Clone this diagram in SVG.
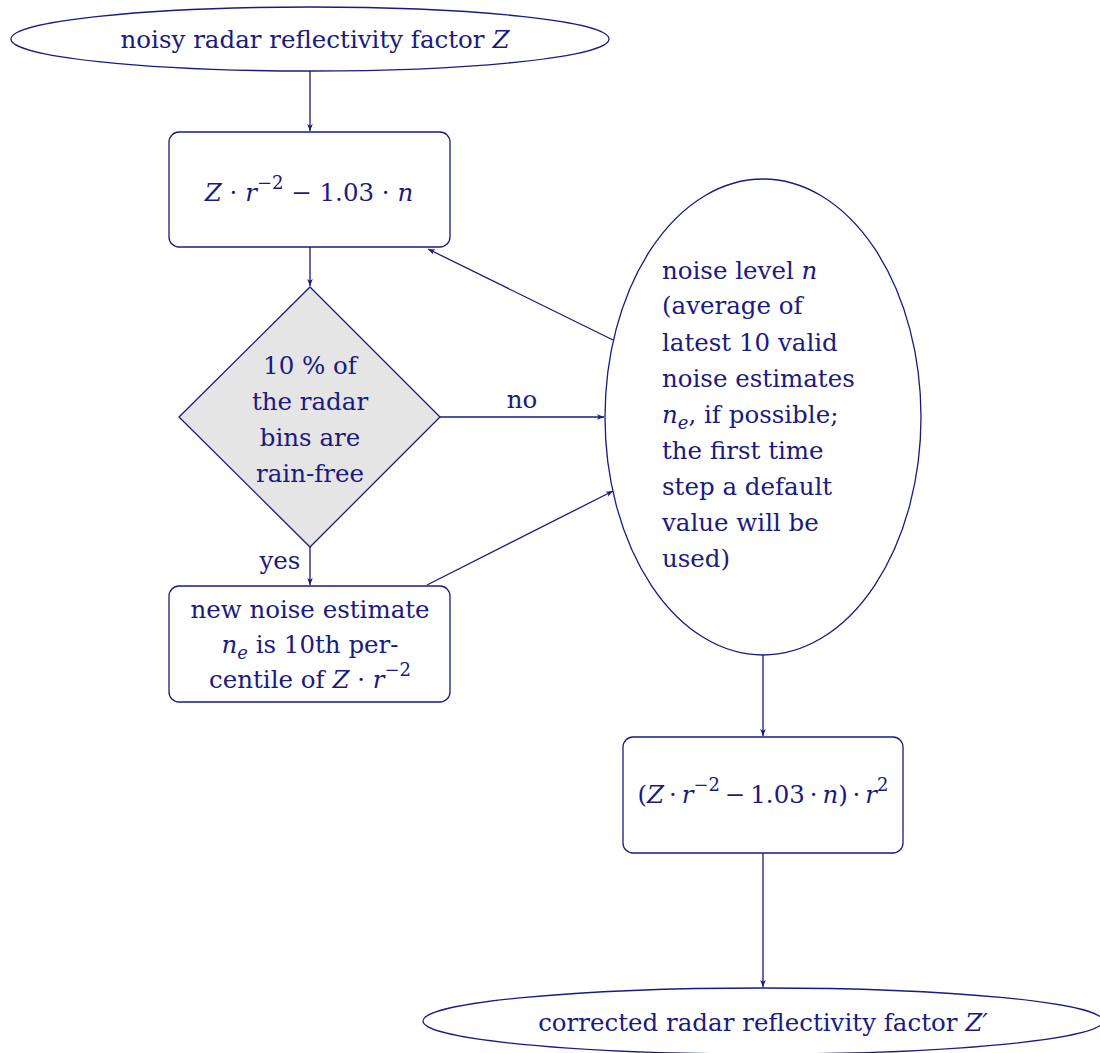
<svg xmlns="http://www.w3.org/2000/svg" width="1100" height="1053" viewBox="0 0 1100 1053">
<style>
.sh{fill:#fff;stroke:#1a1a80;stroke-width:1.3}
.dia{fill:#e5e5e5;stroke:#1a1a80;stroke-width:1.3}
.t{font-family:"DejaVu Serif","Liberation Serif",serif;font-size:24.5px;fill:#1a1a80}
.c{text-anchor:middle}
.i{font-style:italic}
.e{stroke:#1a1a80;stroke-width:1.3;fill:none;marker-end:url(#ah)}
</style>
<defs>
<marker id="ah" viewBox="0 0 10 8" refX="10" refY="4" markerWidth="7" markerHeight="6" markerUnits="userSpaceOnUse" orient="auto">
<path d="M0,0 L10,4 L0,8 L2.5,4 Z" fill="#1a1a80"/>
</marker>
</defs>
<rect width="1100" height="1053" fill="#fff"/>
<g id="connectors">
<line class="e" x1="310" y1="71" x2="310" y2="131"/>
<line class="e" x1="310" y1="247" x2="310" y2="286"/>
<line class="e" x1="440" y1="417" x2="604" y2="417"/>
<line class="e" x1="310" y1="547" x2="310" y2="585"/>
<line class="e" x1="613" y1="340" x2="428" y2="249"/>
<line class="e" x1="427" y1="585" x2="613" y2="491"/>
<line class="e" x1="763" y1="655" x2="763" y2="736"/>
<line class="e" x1="763" y1="853" x2="763" y2="987"/>
<text class="t c" x="522" y="408">no</text>
<text class="t c" x="280" y="569">yes</text>
</g>
<g id="start">
<ellipse class="sh" cx="310" cy="39" rx="299" ry="32"/>
<text class="t c" x="315" y="48">noisy radar reflectivity factor <tspan class="i">Z</tspan></text>
</g>
<g id="subtract">
<rect class="sh" x="169" y="132" width="281" height="115" rx="10"/>
<text class="t c" x="309" y="201"><tspan class="i">Z</tspan> · <tspan class="i">r</tspan><tspan dy="-12" font-size="18">−2</tspan><tspan dy="12"> − 1.03 · </tspan><tspan class="i">n</tspan></text>
</g>
<g id="decision">
<polygon class="dia" points="310,287 440,417 310,547 179,417"/>
<text class="t c" x="310" y="374">10 % of</text>
<text class="t c" x="310" y="410">the radar</text>
<text class="t c" x="310" y="446">bins are</text>
<text class="t c" x="310" y="482">rain-free</text>
</g>
<g id="estimate">
<rect class="sh" x="169" y="586" width="281" height="116" rx="10"/>
<text class="t c" x="310" y="618">new noise estimate</text>
<text class="t c" x="310" y="653"><tspan class="i">n</tspan><tspan class="i" dy="6" font-size="18">e</tspan><tspan dy="-6"> is 10th per-</tspan></text>
<text class="t c" x="310" y="688">centile of <tspan class="i">Z</tspan> · <tspan class="i">r</tspan><tspan dy="-12" font-size="18">−2</tspan></text>
</g>
<g id="noise">
<ellipse class="sh" cx="763" cy="417" rx="158" ry="238"/>
<text class="t" x="662" y="279">noise level <tspan class="i">n</tspan></text>
<text class="t" x="662" y="314">(average of</text>
<text class="t" x="662" y="351">latest 10 valid</text>
<text class="t" x="662" y="387">noise estimates</text>
<text class="t" x="662" y="423"><tspan class="i">n</tspan><tspan class="i" dy="6" font-size="18">e</tspan><tspan dy="-6">, if possible;</tspan></text>
<text class="t" x="662" y="459">the first time</text>
<text class="t" x="662" y="495">step a default</text>
<text class="t" x="662" y="531">value will be</text>
<text class="t" x="662" y="567">used)</text>
</g>
<g id="restore">
<rect class="sh" x="623" y="737" width="280" height="116" rx="10"/>
<text class="t c" x="763" y="803">(<tspan class="i">Z</tspan>&#8201;·&#8201;<tspan class="i">r</tspan><tspan dy="-12" font-size="18">−2</tspan><tspan dy="12">&#8201;−&#8201;1.03&#8201;·&#8201;</tspan><tspan class="i">n</tspan>)&#8201;·&#8201;<tspan class="i">r</tspan><tspan dy="-12" font-size="18">2</tspan></text>
</g>
<g id="end">
<ellipse class="sh" cx="763" cy="1021" rx="340" ry="33"/>
<text class="t c" x="763" y="1031">corrected radar reflectivity factor <tspan class="i">Z′</tspan></text>
</g>
</svg>
